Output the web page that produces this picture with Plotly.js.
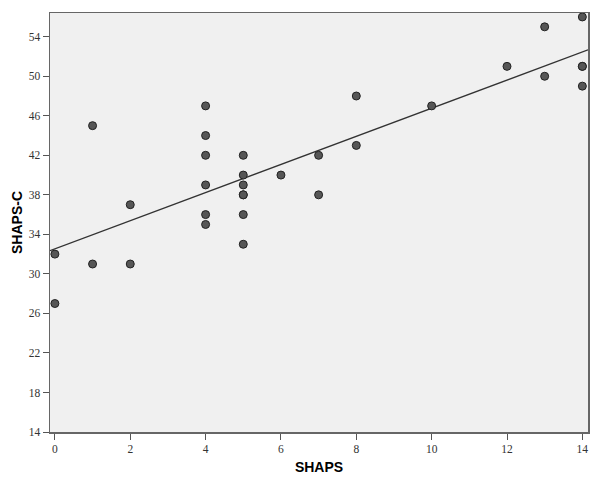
<!DOCTYPE html>
<html>
<head>
<meta charset="utf-8">
<script src="https://cdn.plot.ly/plotly-3.0.1.min.js"></script>
<style>html,body{margin:0;padding:0;background:#fff;}#chart{width:600px;height:479px;}</style>
</head>
<body>
<div id="chart"></div>
<script>
// SHAPS scores (x) and SHAPS-C scores (y)
const shaps   = [0, 0, 1, 1, 2, 2, 4, 4, 4, 4, 4, 4, 5, 5, 5, 5, 5, 5, 5, 6, 7, 7, 8, 8, 10, 12, 13, 13, 14, 14, 14, 14];
const shapsC  = [32, 27, 45, 31, 37, 31, 47, 44, 42, 39, 36, 35, 42, 40, 39, 38, 38, 36, 33, 40, 42, 38, 48, 43, 47, 51, 55, 50, 56, 51, 51, 49];
const xTicks = [0, 2, 4, 6, 8, 10, 12, 14];
const yTicks = [14, 18, 22, 26, 30, 34, 38, 42, 46, 50, 54];
const xRange = [-0.13, 14.15];
const yRange = [14, 56.4];

// least-squares fit line
const n = shaps.length;
const mx = shaps.reduce((a, b) => a + b, 0) / n;
const my = shapsC.reduce((a, b) => a + b, 0) / n;
let sxy = 0, sxx = 0;
for (let i = 0; i < n; i++) { sxy += (shaps[i] - mx) * (shapsC[i] - my); sxx += (shaps[i] - mx) ** 2; }
const slope = sxy / sxx;
const intercept = my - slope * mx;
const fitX = xRange.slice();
const fitY = fitX.map(x => intercept + slope * x);

const traces = [
  {x: fitX, y: fitY, type: 'scatter', mode: 'lines', line: {color: '#333333', width: 1.3}, hoverinfo: 'skip', showlegend: false},
  {x: shaps, y: shapsC, type: 'scatter', mode: 'markers',
   marker: {size: 8, color: '#565656', line: {color: '#222222', width: 1}}, showlegend: false, cliponaxis: false}
];

const tickFont = {family: '"Liberation Serif", "Times New Roman", serif', size: 11.5, color: '#333333'};
const titleFont = {family: '"Liberation Sans", Arial, sans-serif', size: 14, color: '#000000', weight: 'bold'};

const layout = {
  width: 600, height: 479,
  margin: {l: 50, r: 12, t: 13, b: 47},
  paper_bgcolor: '#ffffff',
  plot_bgcolor: '#f0f0f0',
  showlegend: false,
  xaxis: {
    range: xRange, tickvals: xTicks, ticktext: xTicks.map(String),
    showgrid: false, zeroline: false,
    showline: true, linecolor: '#666666', linewidth: 1.5, mirror: true,
    ticks: 'outside', ticklen: 6, tickwidth: 1, tickcolor: '#555555',
    tickfont: tickFont,
    title: {text: '<b>SHAPS</b>', font: titleFont, standoff: 8}
  },
  yaxis: {
    range: yRange, tickvals: yTicks, ticktext: yTicks.map(String),
    showgrid: false, zeroline: false,
    showline: true, linecolor: '#666666', linewidth: 1.5, mirror: true,
    ticks: 'outside', ticklen: 6, tickwidth: 1, tickcolor: '#555555',
    tickfont: tickFont,
    title: {text: '<b>SHAPS-C</b>', font: titleFont, standoff: 3}
  }
};

Plotly.newPlot('chart', traces, layout, {staticPlot: true, displayModeBar: false});
</script>
</body>
</html>
